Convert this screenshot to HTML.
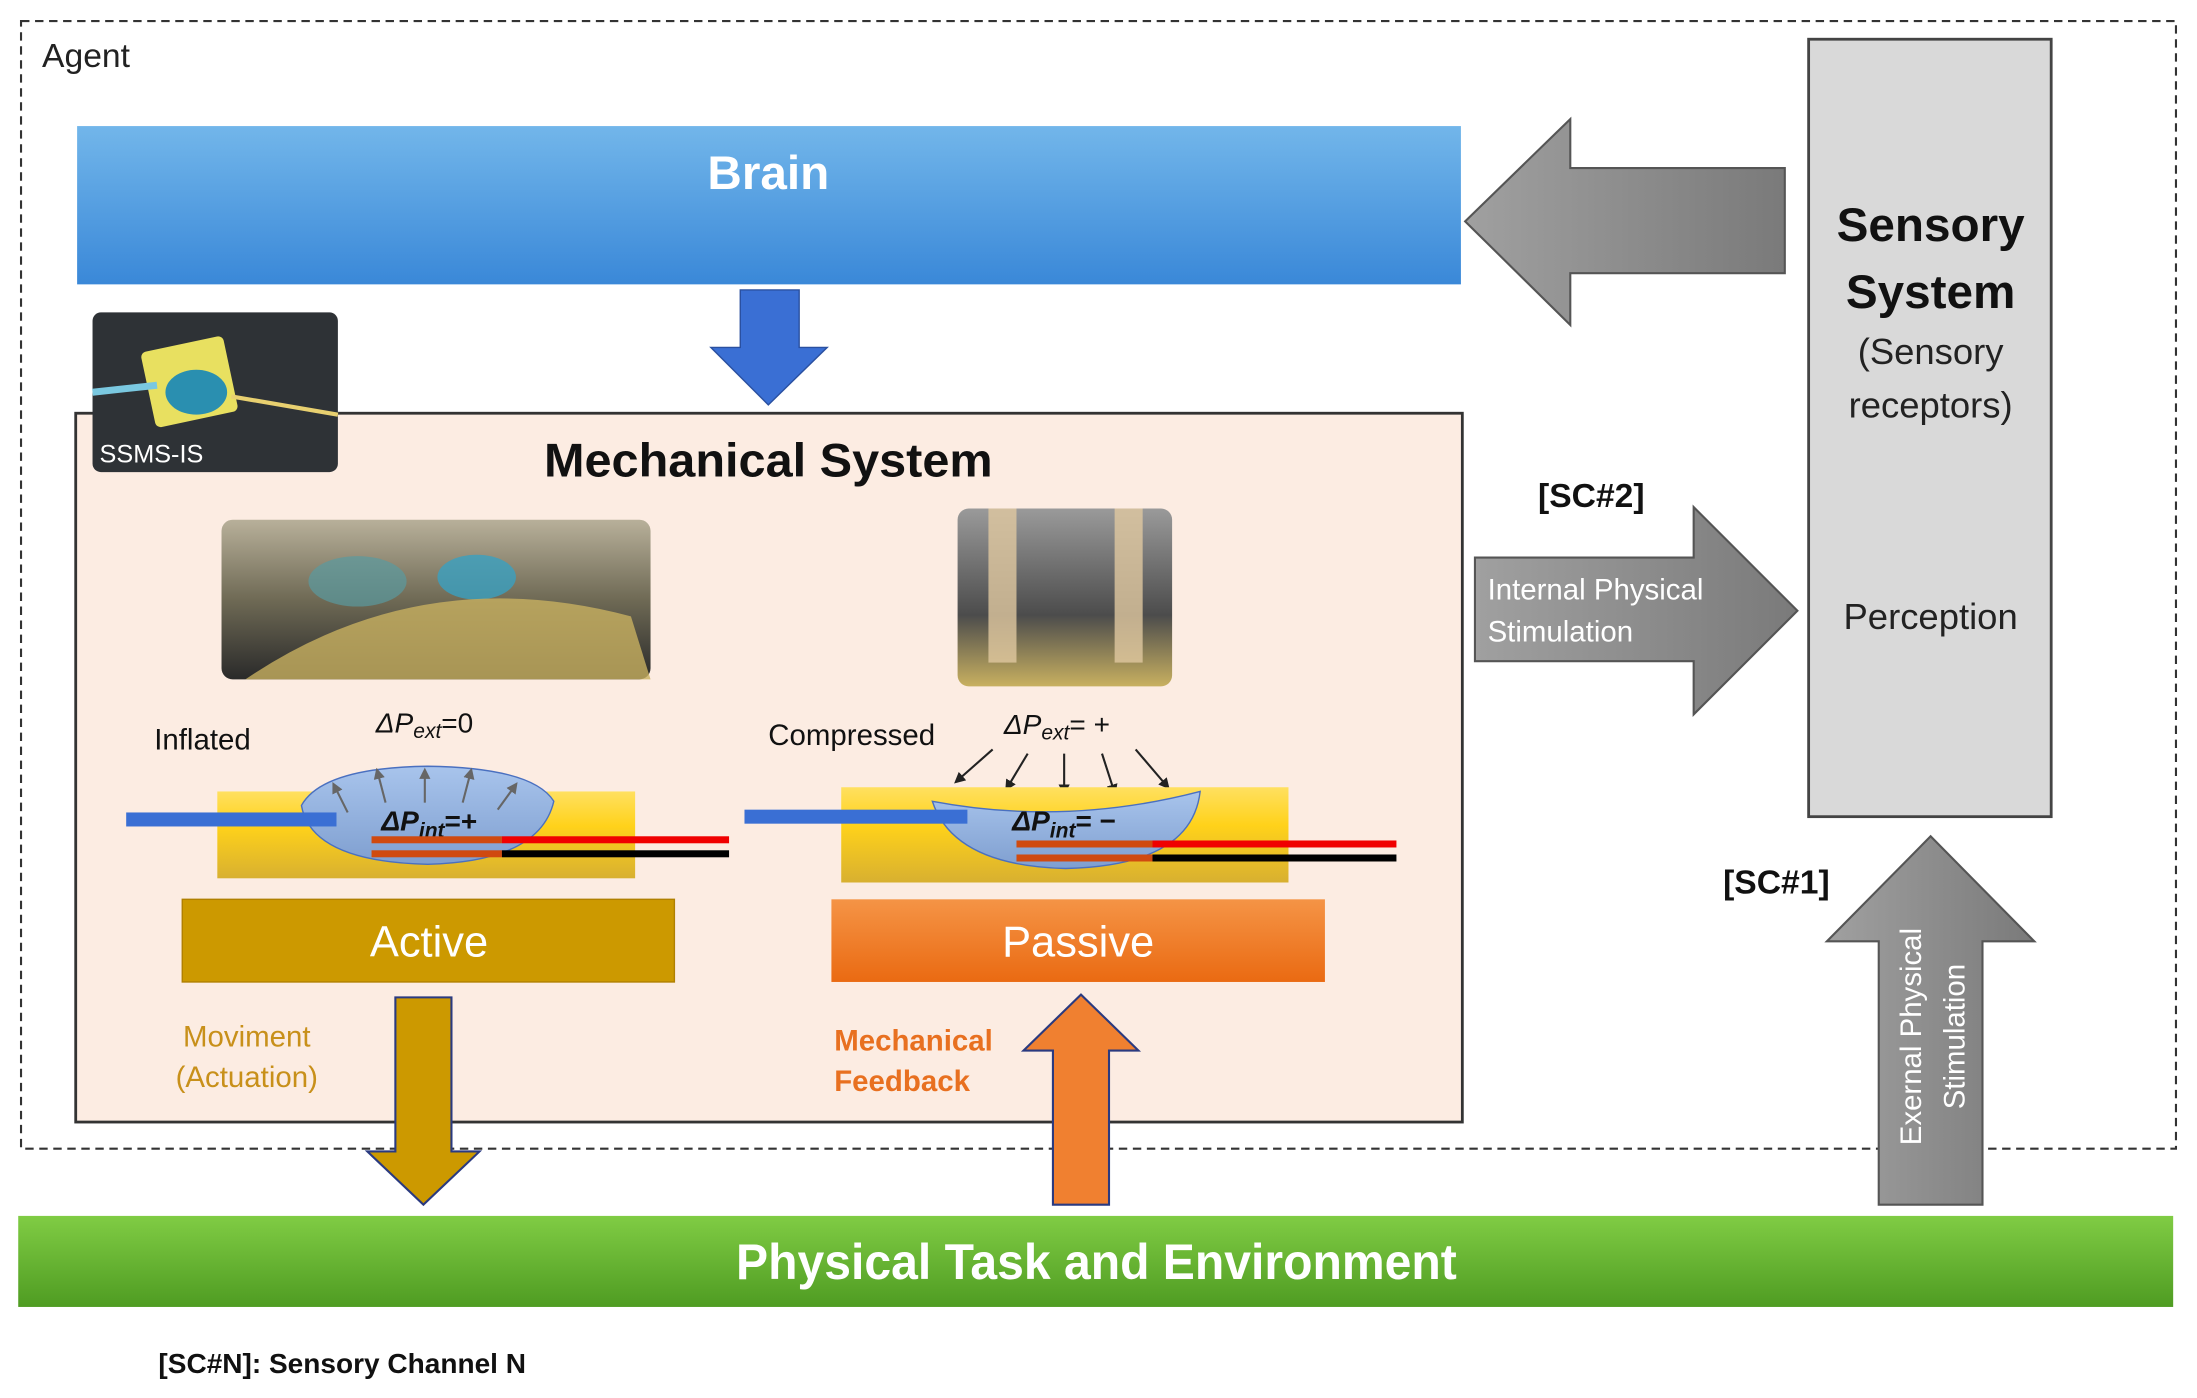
<!DOCTYPE html>
<html><head><meta charset="utf-8"><style>
html,body{margin:0;padding:0;background:#fff}
svg{display:block}
text{font-family:"Liberation Sans",sans-serif}
</style></head><body>
<svg width="2197" height="1398" viewBox="0 0 1567 998" preserveAspectRatio="none" xmlns="http://www.w3.org/2000/svg">
<defs>
<linearGradient id="gb" x1="0" y1="0" x2="0" y2="1"><stop offset="0" stop-color="#72b6ea"/><stop offset="1" stop-color="#3a88d8"/></linearGradient>
<linearGradient id="gg" x1="0" y1="0" x2="0" y2="1"><stop offset="0" stop-color="#80cc44"/><stop offset="1" stop-color="#4f9c22"/></linearGradient>
<linearGradient id="go" x1="0" y1="0" x2="0" y2="1"><stop offset="0" stop-color="#f59446"/><stop offset="1" stop-color="#ea6a12"/></linearGradient>
<linearGradient id="gy" x1="0" y1="0" x2="0" y2="1"><stop offset="0" stop-color="#ffe060"/><stop offset="0.4" stop-color="#ffd21a"/><stop offset="1" stop-color="#d8b030"/></linearGradient>
<linearGradient id="gd" x1="0" y1="0" x2="0" y2="1"><stop offset="0" stop-color="#a8c4ec"/><stop offset="1" stop-color="#7f9fd0"/></linearGradient>
<linearGradient id="ga" x1="0" y1="0" x2="1" y2="0"><stop offset="0" stop-color="#a0a0a0"/><stop offset="1" stop-color="#7a7a7a"/></linearGradient>
<linearGradient id="gp1" x1="0" y1="0" x2="0" y2="1"><stop offset="0" stop-color="#b8b09a"/><stop offset="0.5" stop-color="#6f6a55"/><stop offset="1" stop-color="#2a2a2a"/></linearGradient>
<linearGradient id="gp2" x1="0" y1="0" x2="0" y2="1"><stop offset="0" stop-color="#9a9a9a"/><stop offset="0.6" stop-color="#4c4c4c"/><stop offset="1" stop-color="#c8b060"/></linearGradient>
<marker id="ah" markerWidth="8" markerHeight="8" refX="6" refY="4" orient="auto" markerUnits="userSpaceOnUse"><path d="M0,0 L8,4 L0,8 Z" fill="#222"/></marker>
<marker id="ahg" markerWidth="8" markerHeight="8" refX="6" refY="4" orient="auto" markerUnits="userSpaceOnUse"><path d="M0,0 L8,4 L0,8 Z" fill="#666"/></marker>
</defs>
<rect x="15" y="15" width="1537" height="805" fill="none" stroke="#333" stroke-width="1.5" stroke-dasharray="6,4"/>
<text x="30" y="48" font-size="24" fill="#222">Agent</text>
<rect x="55" y="90" width="987" height="113" fill="url(#gb)"/>
<text x="548" y="135" font-size="34" font-weight="bold" fill="#fff" text-anchor="middle">Brain</text>
<polygon points="1273,120 1120,120 1120,85 1045,158 1120,232 1120,195 1273,195" fill="url(#ga)" stroke="#555" stroke-width="1.5"/>
<rect x="1290" y="28" width="173" height="555" fill="#d9d9d9" stroke="#444" stroke-width="2"/>
<text x="1377" y="172" font-size="34" font-weight="bold" fill="#111" text-anchor="middle">Sensory</text>
<text x="1377" y="220" font-size="34" font-weight="bold" fill="#111" text-anchor="middle">System</text>
<text x="1377" y="260" font-size="26" fill="#222" text-anchor="middle">(Sensory</text>
<text x="1377" y="298" font-size="26" fill="#222" text-anchor="middle">receptors)</text>
<text x="1377" y="449" font-size="26" fill="#222" text-anchor="middle">Perception</text>
<polygon points="528,207 570,207 570,248 590,248 548,289 507,248 528,248" fill="#3a6fd4" stroke="#2a50a0"/>
<rect x="54" y="295" width="989" height="506" fill="#fcece2" stroke="#333" stroke-width="2"/>
<text x="548" y="340" font-size="34" font-weight="bold" fill="#111" text-anchor="middle" textLength="320" lengthAdjust="spacingAndGlyphs">Mechanical System</text>
<rect x="66" y="223" width="175" height="114" rx="6" fill="#2e3236"/>
<rect x="105" y="245" width="60" height="55" rx="4" fill="#e8e060" transform="rotate(-12 135 272)"/>
<ellipse cx="140" cy="280" rx="22" ry="16" fill="#2a8fb0"/>
<line x1="165" y1="283" x2="241" y2="296" stroke="#e8d070" stroke-width="3"/>
<line x1="66" y1="280" x2="112" y2="275" stroke="#7ac8e0" stroke-width="5"/>
<text x="71" y="330" font-size="18" fill="#fff">SSMS-IS</text>
<rect x="158" y="371" width="306" height="114" rx="8" fill="url(#gp1)"/>
<ellipse cx="255" cy="415" rx="35" ry="18" fill="#5a9aa0" opacity="0.7"/>
<ellipse cx="340" cy="412" rx="28" ry="16" fill="#3aa0c0" opacity="0.8"/>
<path d="M175,485 Q300,400 450,440 L464,485 Z" fill="#c8b060" opacity="0.8"/>
<rect x="683" y="363" width="153" height="127" rx="8" fill="url(#gp2)"/>
<rect x="705" y="363" width="20" height="110" fill="#e0c8a0" opacity="0.8"/>
<rect x="795" y="363" width="20" height="110" fill="#e0c8a0" opacity="0.8"/>
<text x="110" y="535" font-size="21" fill="#111">Inflated</text>
<text x="268" y="523" font-size="20" font-style="italic" fill="#111" font-family="Liberation Serif">ΔP<tspan font-size="15" dy="4">ext</tspan><tspan dy="-4" font-style="normal">=0</tspan></text>
<rect x="155" y="565" width="298" height="62" fill="url(#gy)"/>
<path d="M215,575 Q230,548 305,547 Q380,548 395,572 Q385,615 305,617 Q222,615 215,575 Z" fill="url(#gd)" stroke="#4a70c0" stroke-width="1"/>
<g stroke="#666" stroke-width="1.5">
<line x1="248" y1="580" x2="238" y2="560" marker-end="url(#ahg)"/><line x1="275" y1="573" x2="269" y2="550" marker-end="url(#ahg)"/><line x1="303" y1="573" x2="303" y2="550" marker-end="url(#ahg)"/><line x1="330" y1="573" x2="336" y2="550" marker-end="url(#ahg)"/><line x1="355" y1="578" x2="368" y2="560" marker-end="url(#ahg)"/>
</g>
<rect x="90" y="580" width="150" height="10" fill="#3a6fd4"/>
<text x="272" y="593" font-size="20" font-weight="bold" font-style="italic" fill="#111" font-family="Liberation Serif">ΔP<tspan font-size="15" dy="5">int</tspan><tspan dy="-5" font-style="normal">=+</tspan></text>
<rect x="265" y="597" width="93" height="5" fill="#d04a10"/><rect x="358" y="597" width="162" height="5" fill="#f00000"/>
<rect x="265" y="607" width="93" height="5" fill="#d04a10"/><rect x="358" y="607" width="162" height="5" fill="#000"/>
<text x="548" y="532" font-size="21" fill="#111">Compressed</text>
<text x="716" y="524" font-size="20" font-style="italic" fill="#111" font-family="Liberation Serif">ΔP<tspan font-size="15" dy="4">ext</tspan><tspan dy="-4" font-style="normal">= +</tspan></text>
<g stroke="#222" stroke-width="1.5">
<line x1="708" y1="535" x2="682" y2="558" marker-end="url(#ah)"/><line x1="733" y1="538" x2="718" y2="563" marker-end="url(#ah)"/><line x1="759" y1="538" x2="759" y2="566" marker-end="url(#ah)"/><line x1="786" y1="538" x2="795" y2="566" marker-end="url(#ah)"/><line x1="810" y1="535" x2="833" y2="562" marker-end="url(#ah)"/>
</g>
<rect x="600" y="562" width="319" height="68" fill="url(#gy)"/>
<path d="M665,572 Q760,590 856,565 Q850,618 760,620 Q680,618 665,572 Z" fill="url(#gd)" stroke="#4a70c0"/>
<rect x="531" y="578" width="159" height="10" fill="#3a6fd4"/>
<text x="722" y="593" font-size="20" font-weight="bold" font-style="italic" fill="#111" font-family="Liberation Serif">ΔP<tspan font-size="15" dy="5">int</tspan><tspan dy="-5" font-style="normal">= −</tspan></text>
<rect x="725" y="600" width="97" height="5" fill="#d04a10"/><rect x="822" y="600" width="174" height="5" fill="#f00000"/>
<rect x="725" y="610" width="97" height="5" fill="#d04a10"/><rect x="822" y="610" width="174" height="5" fill="#000"/>
<rect x="130" y="642" width="351" height="59" fill="#cc9900" stroke="#b08000"/>
<text x="306" y="683" font-size="31" fill="#fff" text-anchor="middle">Active</text>
<rect x="593" y="642" width="352" height="59" fill="url(#go)"/>
<text x="769" y="683" font-size="31" fill="#fff" text-anchor="middle">Passive</text>
<text x="176" y="747" font-size="21" fill="#c8901a" text-anchor="middle">Moviment</text>
<text x="176" y="776" font-size="21" fill="#c8901a" text-anchor="middle">(Actuation)</text>
<text x="595" y="750" font-size="21" font-weight="bold" fill="#e87020">Mechanical</text>
<text x="595" y="779" font-size="21" font-weight="bold" fill="#e87020">Feedback</text>
<polygon points="282,712 322,712 322,822 342,822 302,860 262,822 282,822" fill="#cc9900" stroke="#2a3a80" stroke-width="1.5"/>
<polygon points="751,860 791,860 791,750 812,750 771,710 730,750 751,750" fill="#f08030" stroke="#2a3a80" stroke-width="1.5"/>
<text x="1135" y="362" font-size="24" font-weight="bold" fill="#111" text-anchor="middle">[SC#2]</text>
<polygon points="1052,398 1208,398 1208,362 1282,436 1208,510 1208,472 1052,472" fill="url(#ga)" stroke="#555" stroke-width="1.5"/>
<text x="1061" y="428" font-size="21" fill="#fff">Internal Physical</text>
<text x="1061" y="458" font-size="21" fill="#fff">Stimulation</text>
<text x="1267" y="638" font-size="24" font-weight="bold" fill="#111" text-anchor="middle">[SC#1]</text>
<polygon points="1340,860 1414,860 1414,672 1451,672 1377,597 1303,672 1340,672" fill="url(#ga)" stroke="#555" stroke-width="1.5"/>
<text transform="translate(1370,740) rotate(-90)" font-size="21" fill="#fff" text-anchor="middle">Exernal Physical</text>
<text transform="translate(1401,740) rotate(-90)" font-size="21" fill="#fff" text-anchor="middle">Stimulation</text>
<rect x="13" y="868" width="1537" height="65" fill="url(#gg)"/>
<text x="782" y="913" font-size="36" font-weight="bold" fill="#fff" text-anchor="middle" textLength="514" lengthAdjust="spacingAndGlyphs">Physical Task and Environment</text>
<text x="113" y="980" font-size="20" font-weight="bold" fill="#111">[SC#N]: Sensory Channel N</text>
</svg>
</body></html>
